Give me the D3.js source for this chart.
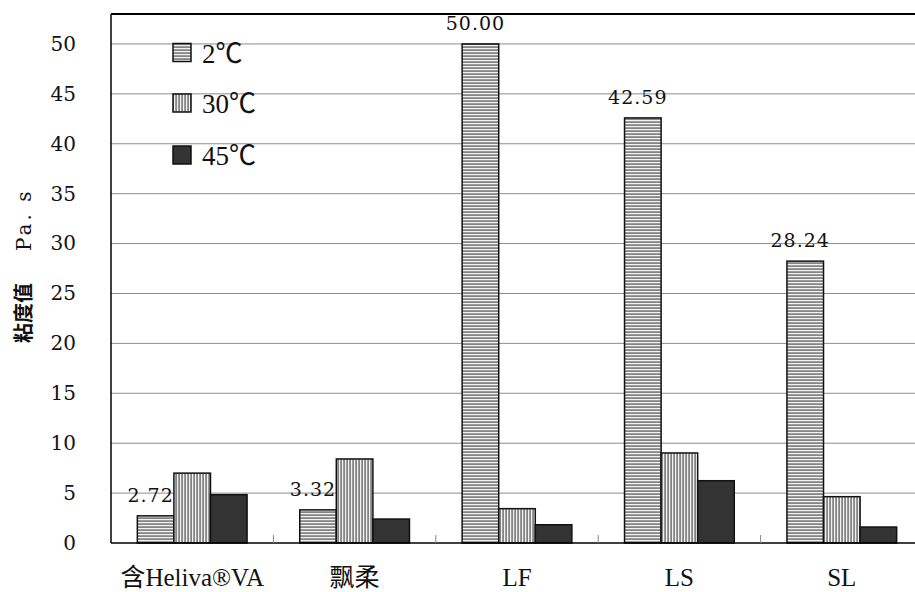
<!DOCTYPE html>
<html><head><meta charset="utf-8">
<script src="https://cdn.jsdelivr.net/npm/d3@7"></script>
<style>html,body{margin:0;padding:0;background:#fff;}</style>
</head><body>
<svg id="c" width="915" height="592"></svg>
<script>
const categories = ["含Heliva®VA", "飘柔", "LF", "LS", "SL"];
const seriesNames = ["2℃", "30℃", "45℃"];
const v2 = [2.72, 3.32, 50.00, 42.59, 28.24];
const v30 = [7.0, 8.42, 3.44, 9.02, 4.64];
const v45 = [4.84, 2.40, 1.83, 6.24, 1.60];
const labels2 = ["2.72", "3.32", "50.00", "42.59", "28.24"];
const yTicks = [0, 5, 10, 15, 20, 25, 30, 35, 40, 45, 50];

const seriesVals = [v2, v30, v45];
const svg = d3.select("#c");
const numFont = "'DejaVu Serif', 'Liberation Serif', serif";
const tnr = "'Liberation Serif', 'Noto Sans CJK SC', serif";

const defs = svg.append("defs");
const ph = defs.append("pattern").attr("id","ph").attr("patternUnits","userSpaceOnUse").attr("width",4).attr("height",3);
ph.append("rect").attr("width",4).attr("height",3).attr("fill","#858585");
ph.append("rect").attr("y",0).attr("width",4).attr("height",1.2).attr("fill","#f2f2f2");
const pv = defs.append("pattern").attr("id","pv").attr("patternUnits","userSpaceOnUse").attr("width",3).attr("height",4);
pv.append("rect").attr("width",3).attr("height",4).attr("fill","#858585");
pv.append("rect").attr("x",0).attr("width",1.2).attr("height",4).attr("fill","#f2f2f2");
const fills = ["url(#ph)", "url(#pv)", "#333333"];

const y = d3.scaleLinear().domain([0, 53]).range([543, 14]);
const x0 = d3.scaleBand().domain(categories).range([111, 923]).padding(0);
const x1 = d3.scaleBand().domain(seriesNames).range([0, x0.bandwidth()]).paddingInner(0).paddingOuter(0.72);

// gridlines
svg.append("g").selectAll("line").data(yTicks.filter(d => d > 0)).join("line")
  .attr("x1", 111).attr("x2", 915).attr("y1", d => y(d)).attr("y2", d => y(d))
  .attr("stroke", "#8c8c8c").attr("stroke-width", 1);

// frame top
svg.append("line").attr("x1",111).attr("x2",915).attr("y1",y(53)).attr("y2",y(53)).attr("stroke","#000").attr("stroke-width",2);

// bars
const g = svg.append("g");
seriesNames.forEach((s, si) => {
  g.append("g").selectAll("rect").data(categories).join("rect")
    .attr("x", c => x0(c) + x1(s))
    .attr("y", (c, i) => y(seriesVals[si][i]))
    .attr("width", x1.bandwidth())
    .attr("height", (c, i) => y(0) - y(seriesVals[si][i]))
    .attr("fill", fills[si]).attr("stroke", "#111").attr("stroke-width", 1.5);
});

// data labels on 2℃
svg.append("g").selectAll("text").data(categories).join("text")
  .attr("x", (c) => x0(c) + x1("2℃") + x1.bandwidth()/2 - 5)
  .attr("y", (c, i) => y(v2[i]) - 14)
  .attr("text-anchor", "middle")
  .style("font-family", numFont).style("font-size", "19px").style("letter-spacing", "1px")
  .attr("fill", "#111")
  .text((c, i) => labels2[i]);

// axes
const yAxis = d3.axisLeft(y).tickValues(yTicks).tickSize(0).tickPadding(35).tickFormat(d3.format("d"));
const ya = svg.append("g").attr("transform","translate(111,0)").call(yAxis);
ya.select(".domain").attr("stroke","#000").attr("stroke-width",1.5).attr("d", `M0,${y(53)}V${y(0)}`);
ya.selectAll("text").style("font-family", numFont).style("font-size", "20px").attr("fill","#111");

const xAxis = d3.axisBottom(x0).tickSize(0).tickPadding(0);
const xa = svg.append("g").attr("transform",`translate(0,${y(0)})`).call(xAxis);
xa.select(".domain").attr("stroke","#000").attr("stroke-width",1.5).attr("d","M111,0H915");
xa.selectAll("text").style("font-family", tnr).style("font-size", "25px").attr("fill","#111").attr("dy", null).attr("y", 43);

// small inner ticks at category boundaries
svg.append("g").selectAll("line").data(categories.slice(1)).join("line")
  .attr("x1", c => x0(c)).attr("x2", c => x0(c))
  .attr("y1", y(0)).attr("y2", y(0) - 8).attr("stroke","#888").attr("stroke-width",1);

// y title
const yt = svg.append("text").attr("transform","translate(31,343) rotate(-90)").attr("fill","#111");
yt.append("tspan").style("font-family","'Noto Sans CJK SC', sans-serif").style("font-weight","bold").style("font-size","20px").text("粘度值");
yt.append("tspan").attr("dx", 32).style("font-family", numFont).style("font-size", "20px").style("letter-spacing", "3px").text("Pa. s");

// legend
const lg = svg.append("g");
const rowY = [52.5, 103, 155];
seriesNames.forEach((s, i) => {
  lg.append("rect").attr("x",173).attr("y",rowY[i]-9).attr("width",18).attr("height",18)
    .attr("fill", fills[i]).attr("stroke","#111").attr("stroke-width",1.5);
  lg.append("text").attr("x",202).attr("y",rowY[i]+10).style("font-family", tnr).style("font-size","27px")
    .attr("fill","#111").text(s);
});
</script>
</body></html>
